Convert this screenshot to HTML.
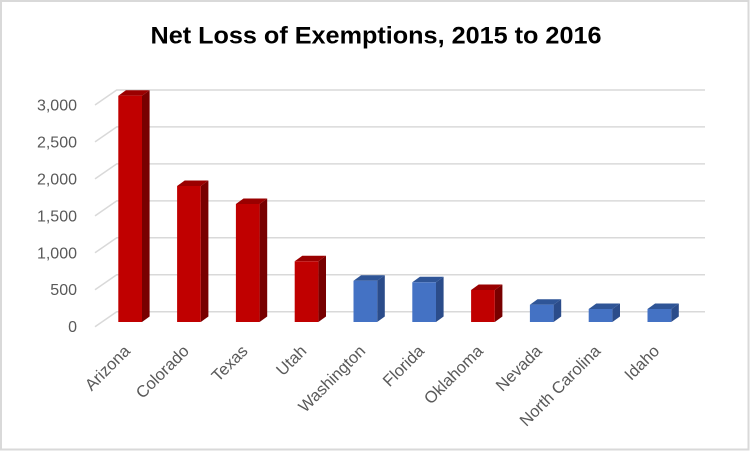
<!DOCTYPE html>
<html><head><meta charset="utf-8"><style>
html,body{margin:0;padding:0;background:#fff;}
svg{display:block;}
text{font-family:"Liberation Sans",sans-serif;}
</style></head><body>
<svg width="752" height="452" viewBox="0 0 752 452" xmlns="http://www.w3.org/2000/svg">
<rect x="0" y="0" width="752" height="452" fill="#fff"/>
<rect x="1" y="1" width="747.5" height="448.5" fill="#fff" stroke="#D9D9D9" stroke-width="2"/>
<text x="150.5" y="43.3" font-size="24" font-weight="bold" fill="#000" textLength="451" lengthAdjust="spacingAndGlyphs">Net Loss of Exemptions, 2015 to 2016</text>
<g stroke="#D9D9D9" stroke-width="1.5" fill="none">
<path d="M95 326.7L116.7 311.7H705"/>
<path d="M95 289.7L116.7 274.7H705"/>
<path d="M95 252.8L116.7 237.8H705"/>
<path d="M95 215.9L116.7 200.9H705"/>
<path d="M95 178.9L116.7 163.9H705"/>
<path d="M95 141.9L116.7 126.9H705"/>
<path d="M95 105L116.7 90H705"/>
</g>
<g font-size="16" fill="#595959" text-anchor="end">
<text x="77" y="332.2">0</text>
<text x="77" y="295.2">500</text>
<text x="77" y="258.3">1,000</text>
<text x="77" y="221.4">1,500</text>
<text x="77" y="184.4">2,000</text>
<text x="77" y="147.4">2,500</text>
<text x="77" y="110.5">3,000</text>
</g>
<g id="bars"></g>
<g font-size="16.5" fill="#595959" text-anchor="end" id="labels"></g>
<script>
(function(){
var data=[["Arizona",95.7,"r"],["Colorado",186,"r"],["Texas",204,"r"],["Utah",261.3,"r"],["Washington",280.7,"b"],["Florida",282.3,"b"],["Oklahoma",290,"r"],["Nevada",304.7,"b"],["North Carolina",309,"b"],["Idaho",309,"b"]];
var col={r:["#C00000","#9A0000","#780000"],b:["#4472C4","#2F5597","#2B4C8A"]};
var NS="http://www.w3.org/2000/svg";
var g=document.getElementById("bars"),lg=document.getElementById("labels");
var w=23.7,dx=7.6,dy=5.5,bot=322;
data.forEach(function(d,i){
 var x0=118.3+i*58.8,t=d[1],c=col[d[2]];
 var f=document.createElementNS(NS,"rect");
 f.setAttribute("x",x0);f.setAttribute("y",t);f.setAttribute("width",w);f.setAttribute("height",bot-t);f.setAttribute("fill",c[0]);
 var s=document.createElementNS(NS,"polygon");
 s.setAttribute("points",(x0+w)+","+t+" "+(x0+w+dx)+","+(t-dy)+" "+(x0+w+dx)+","+(bot-dy)+" "+(x0+w)+","+bot);
 s.setAttribute("fill",c[2]);
 var tp=document.createElementNS(NS,"polygon");
 tp.setAttribute("points",x0+","+t+" "+(x0+w)+","+t+" "+(x0+w+dx)+","+(t-dy)+" "+(x0+dx)+","+(t-dy));
 tp.setAttribute("fill",c[1]);
 g.appendChild(s);g.appendChild(tp);g.appendChild(f);
 var cx=x0+w/2+1,cy=352;
 var tx=document.createElementNS(NS,"text");
 tx.setAttribute("x",cx);tx.setAttribute("y",cy);
 tx.setAttribute("transform","rotate(-45 "+cx+" "+cy+")");
 tx.textContent=d[0];
 lg.appendChild(tx);
});
})();
</script>
</svg>
</body></html>
